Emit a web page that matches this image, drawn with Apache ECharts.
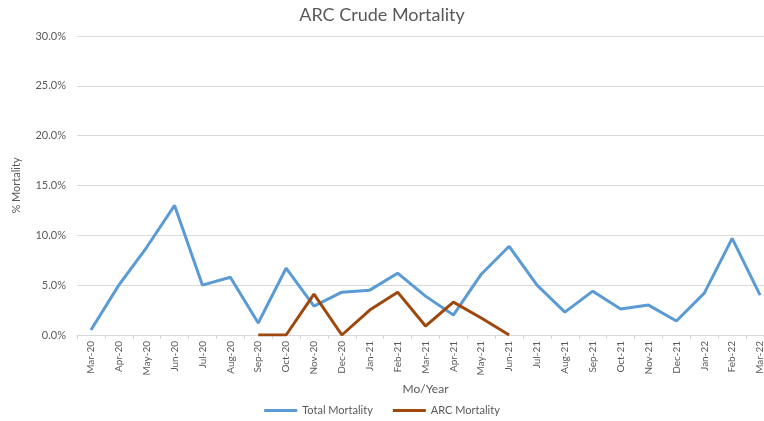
<!DOCTYPE html>
<html>
<head>
<meta charset="utf-8">
<script src="https://cdn.jsdelivr.net/npm/echarts@6/dist/echarts.min.js"></script>
<style>
  html, body { margin: 0; padding: 0; background: #fff; }
  #chart { width: 764px; height: 421px; }
</style>
</head>
<body>
<div id="chart"></div>
<script>
const months = ['Mar-20', 'Apr-20', 'May-20', 'Jun-20', 'Jul-20', 'Aug-20', 'Sep-20', 'Oct-20', 'Nov-20',
  'Dec-20', 'Jan-21', 'Feb-21', 'Mar-21', 'Apr-21', 'May-21', 'Jun-21', 'Jul-21', 'Aug-21', 'Sep-21',
  'Oct-21', 'Nov-21', 'Dec-21', 'Jan-22', 'Feb-22', 'Mar-22'];

// percent values
const totalMortality = [0.5, 5.0, 8.8, 13.0, 5.0, 5.8, 1.2, 6.7, 2.9, 4.3, 4.5, 6.2, 3.9, 2.0, 6.1,
  8.9, 5.0, 2.3, 4.4, 2.6, 3.0, 1.4, 4.2, 9.7, 4.0];
const arcMortality = [null, null, null, null, null, null, 0, 0, 4.1, 0, 2.5, 4.3, 0.9, 3.3, 1.7,
  0, null, null, null, null, null, null, null, null, null];

const yTicks = [0, 5, 10, 15, 20, 25, 30];

const font = 'Lato, "Open Sans", sans-serif';
const chart = echarts.init(document.getElementById('chart'));

chart.setOption({
  animation: false,
  textStyle: { fontFamily: font },
  title: {
    text: 'ARC Crude Mortality',
    left: 'center',
    top: 1,
    textStyle: { fontFamily: font, fontSize: 18, fontWeight: 'normal', color: '#595959' }
  },
  legend: {
    bottom: 0,
    left: 'center',
    itemGap: 20,
    itemWidth: 33,
    itemHeight: 3,
    icon: 'rect',
    textStyle: { fontFamily: font, fontSize: 11, color: '#595959' },
    data: ['Total Mortality', 'ARC Mortality']
  },
  grid: { left: 77, right: -10, top: 36, bottom: 86, outerBoundsMode: 'none' },
  xAxis: {
    type: 'category',
    data: months,
    boundaryGap: true,
    name: 'Mo/Year',
    nameLocation: 'middle',
    nameGap: 43,
    nameTextStyle: { fontFamily: font, fontSize: 12, color: '#595959' },
    axisLine: { lineStyle: { color: '#d9d9d9' } },
    axisTick: { show: true, length: 4, lineStyle: { color: '#d9d9d9' } },
    axisLabel: { rotate: 90, interval: 0, fontSize: 10, color: '#595959', margin: 6 }
  },
  yAxis: {
    type: 'value',
    min: 0,
    max: 30,
    interval: 5,
    name: '% Mortality',
    nameLocation: 'middle',
    nameGap: 55,
    nameTextStyle: { fontFamily: font, fontSize: 11, color: '#595959' },
    axisLine: { show: false },
    axisTick: { show: false },
    splitLine: { lineStyle: { color: '#d9d9d9' } },
    axisLabel: {
      fontSize: 11,
      color: '#595959',
      margin: 11,
      formatter: v => yTicks.includes(v) ? v.toFixed(1) + '%' : ''
    }
  },
  series: [
    {
      name: 'Total Mortality',
      type: 'line',
      data: totalMortality,
      symbol: 'none',
      itemStyle: { color: '#5b9bd5' },
      lineStyle: { color: '#5b9bd5', width: 3 }
    },
    {
      name: 'ARC Mortality',
      type: 'line',
      data: arcMortality,
      symbol: 'none',
      connectNulls: false,
      itemStyle: { color: '#9e480e' },
      lineStyle: { color: '#9e480e', width: 3 }
    }
  ]
});
</script>
</body>
</html>
